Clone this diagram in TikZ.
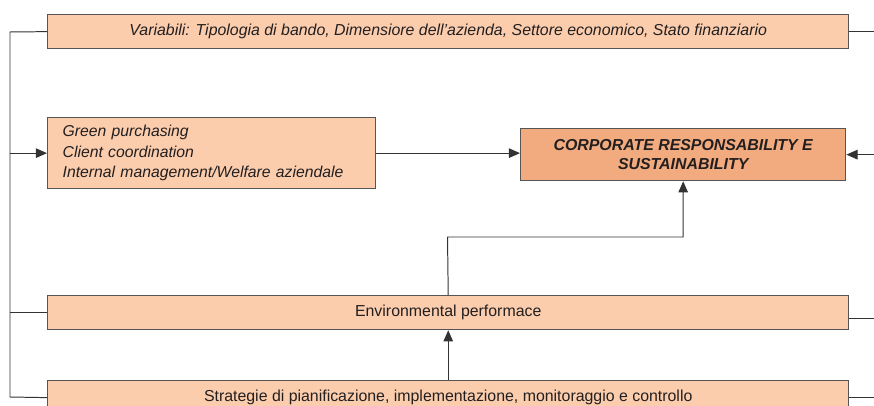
\documentclass[tikz,border=0pt]{standalone}
\usepackage{fontspec}
\setmainfont{Liberation Sans}
\usetikzlibrary{arrows.meta, positioning}
\definecolor{boxpeach}{HTML}{FBCDAD}
\definecolor{crsorange}{HTML}{F2AB7E}
\definecolor{edgegray}{HTML}{555555}
\definecolor{linegray}{HTML}{333333}
\definecolor{txtdark}{HTML}{231F20}

\begin{document}
\begin{tikzpicture}[
    x=0.025cm, y=-0.025cm,
    >={Triangle[length=2.8mm, width=2.4mm]},
    font=\fontsize{11.3}{13.5}\selectfont,
    text=txtdark,
    widebox/.style={
        draw=edgegray, fill=boxpeach, line width=0.9pt,
        minimum width=20.025cm, minimum height=0.85cm,
        inner sep=0pt, anchor=north west,
    },
    listbox/.style={
        draw=edgegray, fill=boxpeach, line width=0.9pt,
        minimum width=8.2cm, minimum height=1.775cm,
        text width=7.45cm, inner xsep=0.375cm, inner ysep=0pt,
        align=left, anchor=north west, font=\fontsize{11.2}{14.5}\selectfont\itshape,
    },
    goalbox/.style={
        draw=edgegray, fill=crsorange, line width=0.9pt,
        minimum width=8.125cm, minimum height=1.3cm,
        inner sep=0pt, align=center, anchor=north west,
        font=\fontsize{11.3}{14}\selectfont\bfseries\itshape,
    },
    link/.style={line width=0.7pt, color=linegray},
    arr/.style={->, line width=0.7pt, color=linegray},
]

% page frame, cut at the bottom like the original
\clip (0,0) rectangle (874,406);

% boxes
\node[widebox] (vars) at (47,14)
    {\itshape Variabili: Tipologia di bando, Dimensiore dell’azienda, Settore economico, Stato finanziario};
\node[listbox] (practices) at (47,117)
    {Green purchasing\\Client coordination\\Internal management/Welfare aziendale};
\node[goalbox] (crs) at (520,128) {CORPORATE RESPONSABILITY E\\SUSTAINABILITY};
\node[widebox] (envperf) at (47,295) {Environmental performace};
\node[widebox] (strategy) at (47,380)
    {Strategie di pianificazione, implementazione, monitoraggio e controllo};

% left bus and right edge
\coordinate (busTop) at (10,32);
\coordinate (busBot) at (10,397);
\coordinate (edgeR) at (874,0);
\coordinate (bend) at (447.5,237);

\draw[link] (vars.west) -- (busTop) -- (busBot) -- (strategy.west);
\draw[link] (busTop |- envperf.west) -- (envperf.west);
\draw[arr] (busTop |- practices.west) -- (practices.west);

% into the goal box
\draw[arr] (practices.east) -- (practices.east -| crs.west);
\draw[arr] (envperf.north) -- (bend) -| (crs.south);
\draw[arr] (strategy.north) -- (envperf.south);

% stubs going off to the right
\draw[link] (vars.east) -- (vars.east -| edgeR);
\draw[arr] (crs.east -| edgeR) -- (crs.east);
\draw[link] ([yshift=-4pt]envperf.east) -- ([yshift=-4pt]envperf.east -| edgeR);
\draw[link] (strategy.east) -- (strategy.east -| edgeR);

\end{tikzpicture}
\end{document}
